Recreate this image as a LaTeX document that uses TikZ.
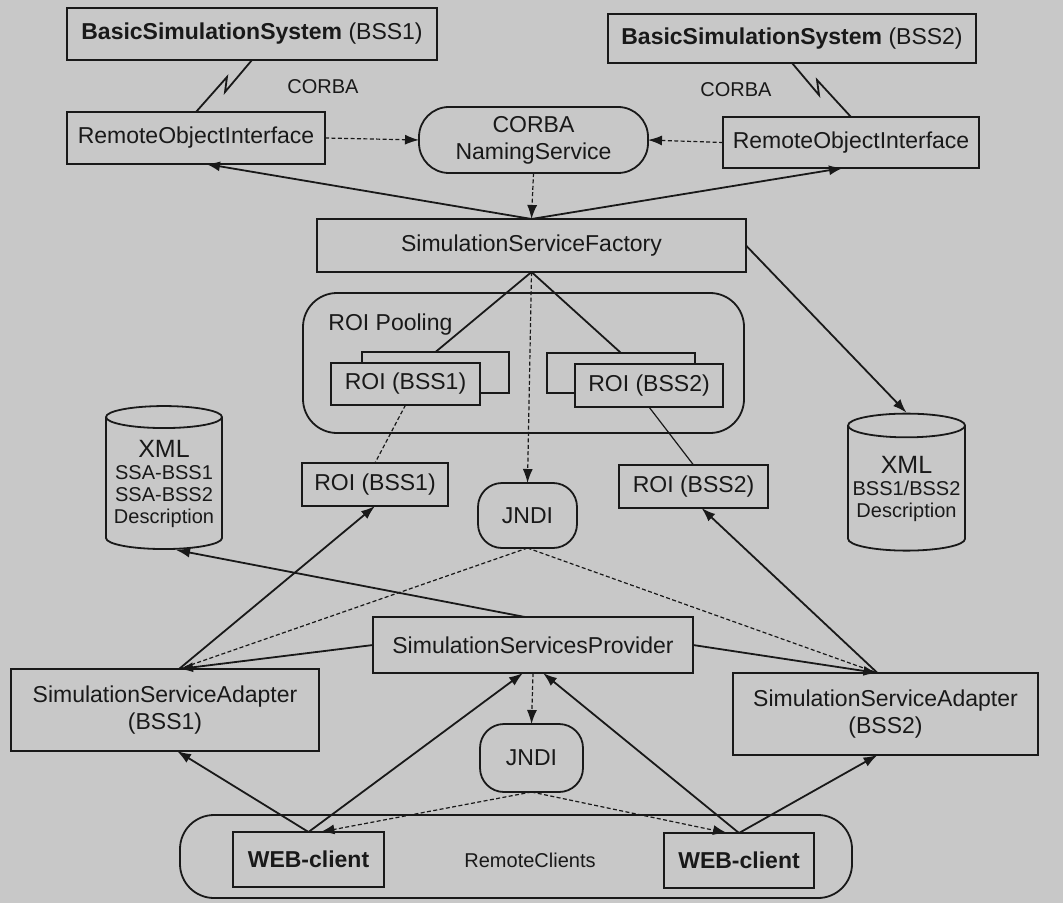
\documentclass[tikz,border=0pt]{standalone}
\usepackage{fontspec}
\setmainfont{Liberation Sans}
\usepackage{tikz}
\usetikzlibrary{positioning,shapes.geometric,arrows.meta}
\definecolor{fond}{RGB}{200,200,200}
\definecolor{encre}{RGB}{25,25,25}
\tikzstyle{boite}=[rectangle,draw=encre,fill=fond,line width=0.9pt,inner sep=0pt,outer sep=0pt,align=center,font=\fontsize{11.5}{13.5}\selectfont]
\tikzstyle{arrondi}=[boite,rounded corners=15pt]
\tikzstyle{ovale}=[boite,rounded corners=12pt]
\tikzstyle{cadre}=[boite,rounded corners=17pt]
\tikzstyle{base}=[cylinder,shape border rotate=90,aspect=0.22,draw=encre,fill=fond,line width=0.9pt,inner sep=0pt,align=center,font=\fontsize{10}{11}\selectfont]
\tikzstyle{texte}=[inner sep=0pt,font=\fontsize{11.5}{13.5}\selectfont]
\tikzstyle{petit}=[inner sep=0pt,font=\fontsize{10}{12}\selectfont]
\tikzstyle{fleche}=[-{Latex[length=7pt,width=5pt]},line width=0.9pt]
\tikzstyle{trait}=[line width=0.9pt]
\tikzstyle{pointille}=[line width=0.6pt,dash pattern=on 2pt off 1.2pt]

\begin{document}
\begin{tikzpicture}[x=0.5pt,y=-0.5pt,color=encre]

\useasboundingbox (0,0) rectangle (1063,903);
\fill[fond] (0,0) rectangle (1063,903);

\node[boite,minimum width=185pt,minimum height=26pt] (B00) at (252,34) {\textbf{BasicSimulationSystem} (BSS1)};
\node[boite,minimum width=184pt,minimum height=24.5pt] (B01) at (792,38.5) {\textbf{BasicSimulationSystem} (BSS2)};
\node[petit] (T10) at (323,87) {CORBA};
\node[petit] (T12) at (736,90) {CORBA};
\node[boite,minimum width=129pt,minimum height=26pt] (R10) at (196,138) {RemoteObjectInterface};
\node[arrondi,minimum width=114.5pt,minimum height=33pt] (C11) at (533.5,140) {CORBA\\NamingService};
\node[boite,minimum width=128pt,minimum height=25.5pt] (R12) at (851,142.5) {RemoteObjectInterface};
\node[boite,minimum width=214.5pt,minimum height=26.5pt] (F20) at (531.5,245.5) {SimulationServiceFactory};

\node[cadre,minimum width=220.5pt,minimum height=70pt] (C30) at (523.5,363) {};
\node[texte] (L30) [below right=10pt and 12.5pt of C30.north west] {ROI Pooling};
\node[boite,minimum width=73.5pt,minimum height=20.5pt] (P30b) at (435.5,372.5) {};
\node[boite,minimum width=74.5pt,minimum height=21pt] (P30) at (405.5,384) {ROI (BSS1)};
\node[boite,minimum width=74pt,minimum height=20pt] (P31b) at (621,373) {};
\node[boite,minimum width=74pt,minimum height=21.5pt] (P31) at (649,385.5) {ROI (BSS2)};

\node[base,minimum width=58pt,minimum height=71.5pt] (X40) at (164,483.5) {{\fontsize{12.5}{14}\selectfont XML}\\SSA-BSS1\\SSA-BSS2\\Description};
\node[boite,minimum width=73pt,minimum height=21.5pt] (S40) at (375,484.5) {ROI (BSS1)};
\node[ovale,minimum width=49.5pt,minimum height=32.5pt] (J40) at (527.5,515.5) {JNDI};
\node[boite,minimum width=74.5pt,minimum height=21.5pt] (S42) at (693.5,486.5) {ROI (BSS2)};
\node[base,minimum width=58.5pt,minimum height=68.5pt] (X42) at (906.5,488.5) {{\fontsize{12.5}{14}\selectfont XML}\\BSS1/BSS2\\Description};

\node[boite,minimum width=160pt,minimum height=28pt] (P60) at (533,645) {SimulationServicesProvider};
\node[boite,minimum width=154pt,minimum height=41pt] (A60) at (165,710) {SimulationServiceAdapter\\(BSS1)};
\node[boite,minimum width=152.5pt,minimum height=41pt] (A62) at (885.5,714) {SimulationServiceAdapter\\(BSS2)};
\node[ovale,minimum width=51.5pt,minimum height=34pt] (J60) at (531.5,758) {JNDI};

\node[cadre,minimum width=336pt,minimum height=41.5pt] (C80) at (516,856.5) {};
\node[boite,minimum width=75.5pt,minimum height=27.5pt] (W80) at (308.5,859.5) {\textbf{WEB-client}};
\node[petit] (T81) at (530,860) {RemoteClients};
\node[boite,minimum width=75pt,minimum height=27.5pt] (W82) at (739,860.5) {\textbf{WEB-client}};

\coordinate (a60) at ([xshift=7pt]A60.north);
\coordinate (a62) at ([xshift=-4pt]A62.north);

\draw[trait] (B00.south) -- ++(-27,32) -- ++(2,-15) -- (R10.north);
\draw[trait] (B01.south) -- ++(27,32) -- ++(-2,-15) -- (R12.north);
\draw[pointille,fleche,line width=0.6pt] (R10.east) -- (C11.west);
\draw[pointille,fleche,line width=0.6pt] (R12.west) -- (C11.east);
\draw[pointille,fleche,line width=0.6pt] (C11.south) -- (F20.north);
\draw[fleche] (F20.north) -- ([xshift=5pt]R10.south);
\draw[fleche] (F20.north) -- ([xshift=-4pt]R12.south);
\draw[fleche] (F20.east) -- (X42.north);
\draw[trait] (F20.south) -- (P30b.north);
\draw[trait] (F20.south) -- (P31b.north);
\draw[pointille,fleche,line width=0.6pt] (F20.south) -- (J40.north);
\draw[pointille] (P30.south) -- (S40.north);
\draw[line width=0.6pt] (P31.south) -- (S42.north);

\draw[fleche] (a60) -- (S40.south);
\draw[fleche] (a62) -- ([xshift=4pt]S42.south);
\draw[fleche] ([xshift=-4pt]P60.north) -- ([xshift=6pt]X40.south);
\draw[pointille] (J40.south) -- (a60);
\draw[pointille] (J40.south) -- (a62);
\draw[fleche] (P60.west) -- (a60);
\draw[fleche] (P60.east) -- (a62);
\draw[pointille,fleche,line width=0.6pt] (P60.south) -- (J60.north);
\draw[fleche] (W80.north) -- ([xshift=6pt]A60.south);
\draw[fleche] (W80.north) -- ([xshift=-5pt]P60.south);
\draw[fleche] (W82.north) -- ([xshift=5pt]P60.south);
\draw[fleche] (W82.north) -- ([xshift=-4pt]A62.south);
\draw[pointille,fleche,line width=0.6pt] (J60.south) -- ([xshift=6pt]W80.north);
\draw[pointille,fleche,line width=0.6pt] (J60.south) -- ([xshift=-6pt]W82.north);

\end{tikzpicture}
\end{document}
